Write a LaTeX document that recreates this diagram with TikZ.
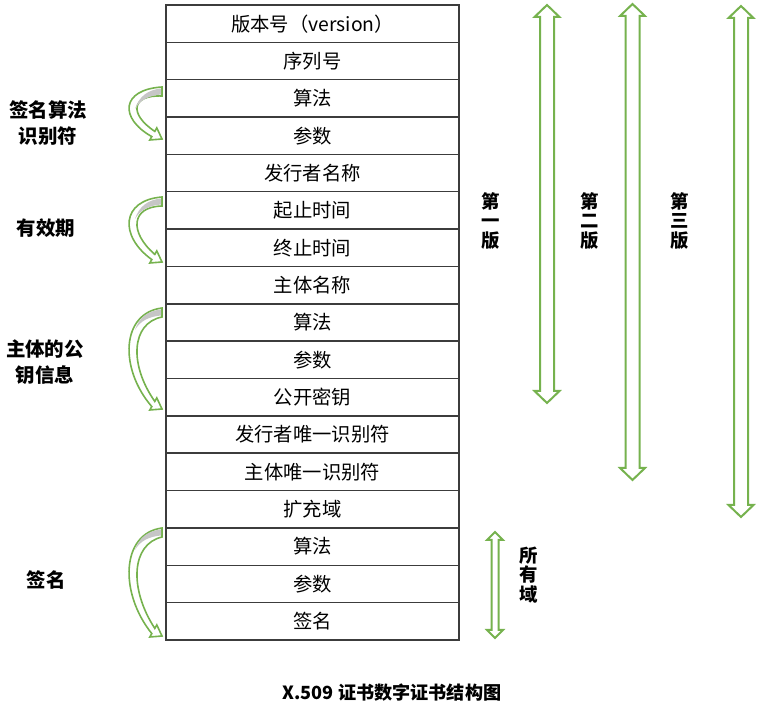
\documentclass[tikz,border=0pt]{standalone}
\usepackage{fontspec}
\setmainfont{Noto Sans CJK SC}
\definecolor{certgreen}{RGB}{118,178,78}
\definecolor{rowline}{RGB}{60,60,60}
\tikzset{
  row/.style={draw=rowline,line width=1.1pt,minimum width=293*0.75pt,minimum height=37.35*0.75pt,
    inner sep=0pt,font=\fontsize{14.5}{17}\selectfont},
  sidelabel/.style={align=center,font=\fontsize{14.6}{19.5}\selectfont\bfseries},
  verlabel/.style={align=center,font=\fontsize{13.8}{14.8}\selectfont\bfseries},
  grnline/.style={draw=certgreen,line width=1.5pt,line join=miter},
}
% hollow two-headed arrow: x, top, bottom, half shaft, half head, head length
\newcommand\spanarrow[6]{%
  \draw[grnline,fill=white] (#1,#2) -- ({#1+#5},{#2+#6}) -- ({#1+#4},{#2+#6}) -- ({#1+#4},{#3-#6})
    -- ({#1+#5},{#3-#6}) -- (#1,#3) -- ({#1-#5},{#3-#6}) -- ({#1-#4},{#3-#6})
    -- ({#1-#4},{#2+#6}) -- ({#1-#5},{#2+#6}) -- cycle;}
% curved ribbon arrow: top, bottom
\newcommand\bendarrow[2]{%
  \pgfmathsetmacro\hgt{#2-#1}
  \draw[grnline,line width=1.2pt,fill=white] (162,#1) .. controls (121,{#1+0.05*\hgt}) and (119,{#2-0.4*\hgt}) .. (151.8,{#2-2.4})
    -- (149.8,{#2+1}) -- (162,#2) -- (156.8,{#2-11.1}) -- (154.8,{#2-7.6})
    .. controls (129,{#2-0.4*\hgt-4}) and (131,{#1+0.15*\hgt}) .. (162,{#1+9}) -- cycle;
  \fill[gray!45] (161,{#1+1.5}) .. controls (147,{#1+3}) and (139,{#1+10}) .. (135,{#1+22})
    .. controls (140,{#1+13}) and (149,{#1+8.5}) .. (161,{#1+7.5}) -- cycle;}
\begin{document}
\begin{tikzpicture}[x=0.75pt,y=-0.75pt]
\useasboundingbox (0,0) rectangle (758,720);

% certificate fields
\foreach \txt [count=\i] in {版本号（version）,序列号,算法,参数,发行者名称,起止时间,终止时间,主体名称,
  算法,参数,公开密钥,发行者唯一识别符,主体唯一识别符,扩充域,算法,参数,签名}
  \node[row] (r\i) at (312.5,{5+37.35*(\i-0.5)}) {\txt};

% groups on the left
\bendarrow{87}{139}
\bendarrow{197}{262}
\bendarrow{308}{409}
\bendarrow{528}{636}
\node[sidelabel] (algid) at (48,123) {签名算法\\识别符};
\node[sidelabel] (valid) at (46,228) {有效期};
\node[sidelabel] (pubkey) at (45,362) {主体的公\\钥信息};
\node[sidelabel] (signame) at (46,580) {签名};

% versions
\spanarrow{547}{5}{403}{7}{12.5}{12}
\spanarrow{632.5}{4}{480}{7}{12.5}{12}
\spanarrow{741}{6}{517}{7}{12.5}{12}
\spanarrow{495}{532}{638}{3.5}{8}{8}
\node[verlabel] (ver1) at (491,221) {第\\一\\版};
\node[verlabel] (ver2) at (590,221) {第\\二\\版};
\node[verlabel] (ver3) at (680,221) {第\\三\\版};
\node[verlabel] (allfld) at (529,575) {所\\有\\域};

\node[font=\fontsize{13.6}{15}\selectfont\bfseries] (title) at (392,693) {X.509 证书数字证书结构图};
\end{tikzpicture}
\end{document}
